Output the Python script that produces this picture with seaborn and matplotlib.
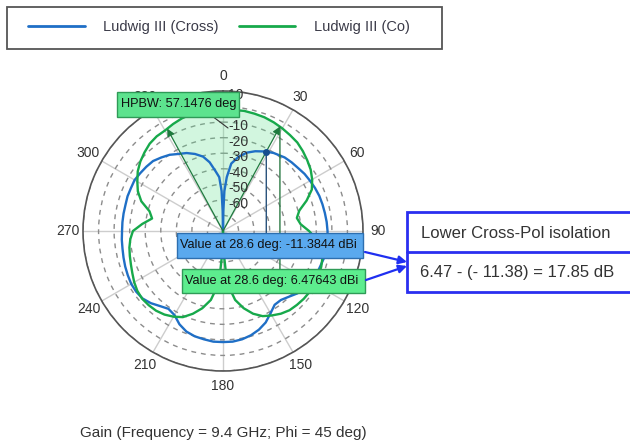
import numpy as np
import pandas as pd
import seaborn as sns
import matplotlib
matplotlib.use("Agg")
import matplotlib.pyplot as plt
import matplotlib.transforms as mtransforms
from matplotlib.patches import Rectangle, FancyArrowPatch
from matplotlib.lines import Line2D

# ---------------- data (dB on the plot's radial scale) -------------
series_names = ["Ludwig III (Cross)", "Ludwig III (Co)"]

co_theta = [0, 5, 10, 15, 20, 25, 30, 35, 40, 45, 50, 55, 60, 65, 70, 75, 80, 85, 90,
            95, 100, 105, 110, 115, 120, 125, 130, 135, 140, 145, 150, 155, 160, 165,
            170, 174, 176, 178, 180, 182, 184, 186, 190, 195, 200, 205, 210, 215, 220,
            225, 230, 235, 240, 245, 250, 255, 260, 265, 270, 275, 280, 285, 290, 295,
            300, 305, 310, 315, 320, 325, 330, 335, 340, 345, 350, 355, 360]
co_gain = [-2.2, -1.9, -1.6, -1.9, -2.2, -2.9, -3.8, -4.8, -5.7, -7.4, -9.3, -11.2, -13.8,
           -17.0, -22.8, -29.2, -31.8, -29.9, -24.7, -19.6, -15.7, -13.8, -12.8, -12.2,
           -11.9, -11.9, -12.2, -12.8, -13.5, -15.1, -17.3, -19.6, -23.4, -28.6, -35.0,
           -44.0, -53.0, -65.9, -80.0, -65.9, -53.0, -44.0, -35.0, -28.6, -23.4, -18.9,
           -16.4, -14.4, -13.1, -12.5, -12.2, -12.8, -14.1, -15.7, -17.0, -18.0, -18.9,
           -20.2, -22.1, -27.9, -33.7, -31.1, -24.1, -19.6, -16.4, -13.1, -10.6, -8.6,
           -6.7, -5.7, -5.4, -4.1, -2.9, -2.2, -1.9, -2.2, -2.2]

cross_theta = [0, 1, 2, 4, 7, 12, 17, 22, 28, 33, 40, 45, 50, 55, 60, 65, 70, 75, 80, 85,
               90, 95, 100, 105, 110, 115, 120, 125, 130, 135, 140, 145, 150, 155, 160,
               165, 170, 175, 180, 185, 190, 195, 200, 205, 210, 215, 220, 225, 230, 235,
               240, 245, 250, 255, 260, 265, 270, 275, 280, 285, 290, 295, 300, 305, 310,
               315, 320, 325, 330, 335, 340, 345, 349, 353, 356, 358, 359, 360]
cross_gain = [-80.0, -67.1, -54.3, -45.3, -36.3, -31.1, -27.3, -24.7, -22.1, -20.2, -18.3,
              -17.6, -17.0, -16.0, -15.4, -14.7, -14.1, -13.8, -13.5, -13.1, -12.8, -12.5,
              -12.5, -12.8, -13.5, -13.8, -14.4, -15.7, -17.6, -20.2, -22.1, -22.1, -18.9,
              -15.1, -12.5, -10.6, -9.3, -8.6, -8.6, -8.6, -9.3, -9.9, -11.2, -13.8, -17.6,
              -18.9, -17.0, -14.4, -12.5, -11.9, -11.9, -12.5, -13.1, -13.8, -14.4, -14.7,
              -15.1, -15.1, -15.1, -15.1, -14.7, -14.7, -14.4, -15.1, -15.7, -16.4, -18.3,
              -20.2, -22.8, -24.7, -27.3, -30.5, -35.0, -41.4, -45.3, -54.3, -67.1, -80.0]

angle_ticks = list(range(0, 360, 30))
radial_ticks = [-70, -60, -50, -40, -30, -20, -10, 0, 10]
radial_labels = ["", "-60", "-50", "-40", "-30", "-20", "-10", "", "10"]
marker_angle = 28.6
hpbw_text = "HPBW: 57.1476 deg"
cross_value_text = "Value at 28.6 deg: -11.3844 dBi"
co_value_text = "Value at 28.6 deg: 6.47643 dBi"
iso_title = "Lower Cross-Pol isolation"
iso_value = "6.47 - (- 11.38) = 17.85 dB"
footer = "Gain (Frequency = 9.4 GHz; Phi = 45 deg)"

BLUE = "#1f6fc6"
GREEN = "#17a94b"
palette = {series_names[0]: BLUE, series_names[1]: GREEN}

# ---------------- figure ----------------
sns.set_theme(style="white")
plt.rcParams["font.family"] = ["Liberation Sans", "DejaVu Sans"]

W, H = 630, 447
fig = plt.figure(figsize=(W / 100, H / 100), dpi=100)


def fx(x):
    return x / W


def fy(y):
    return 1 - y / H


ax = fig.add_axes([fx(83), fy(371), 280 / W, 280 / H], projection="polar")

df = pd.concat([
    pd.DataFrame({"theta": np.deg2rad(cross_theta), "gain": cross_gain, "series": series_names[0]}),
    pd.DataFrame({"theta": np.deg2rad(co_theta), "gain": co_gain, "series": series_names[1]}),
], ignore_index=True)

sns.lineplot(data=df, x="theta", y="gain", hue="series", hue_order=series_names,
             palette=palette, estimator=None, sort=False, legend=False, lw=1.7, ax=ax)

ax.set_theta_zero_location("N")
ax.set_theta_direction(-1)
ax.set_ylim(-80, 10)
ax.set_xlabel("")
ax.set_ylabel("")
ax.set_xticks(np.deg2rad(angle_ticks))
ax.set_xticklabels([str(a) for a in angle_ticks])
ax.set_yticks(radial_ticks)
ax.set_yticklabels([])
ax.xaxis.grid(True, color="#cdcdcd", lw=1.0, ls="-")
ax.yaxis.grid(True, color="#8c8c8c", lw=1.0, ls=(0, (3.5, 3.5)))
ax.spines["polar"].set_color("#555555")
ax.spines["polar"].set_linewidth(1.2)
ax.tick_params(axis="x", pad=-2, labelsize=10, labelcolor="#333333")

# radial labels just right of the 0 deg line
off = mtransforms.ScaledTranslation(0.05, -0.04, fig.dpi_scale_trans)
for v, lab in zip(radial_ticks, radial_labels):
    if lab:
        ax.text(0, v, lab, transform=ax.transData + off, ha="left", va="center",
                fontsize=10, color="#333333", zorder=6)

# HPBW sector
t_signed = np.where(np.array(co_theta) > 180, np.array(co_theta) - 360, np.array(co_theta))
order = np.argsort(t_signed)
ts, gs = t_signed[order], np.array(co_gain)[order]
gl = np.interp(-marker_angle, ts, gs)
gr = np.interp(marker_angle, ts, gs)
inner = np.abs(ts) < marker_angle
poly_t = np.concatenate([[0, -marker_angle], ts[inner], [marker_angle, 0]])
poly_r = np.concatenate([[-80, gl], gs[inner], [gr, -80]])
ax.fill(np.deg2rad(poly_t), poly_r, color="#5fe08f", alpha=0.28, lw=0, zorder=0.8)
for ang, val in [(-marker_angle, gl), (marker_angle, gr)]:
    ax.annotate("", xy=(np.deg2rad(ang), val), xytext=(0, -80),
                arrowprops=dict(arrowstyle="-|>", color="#1e7a3e", lw=0.9,
                                mutation_scale=11, shrinkA=0, shrinkB=0), zorder=4)

# markers at 28.6 deg and leaders to the value boxes
bv = np.interp(marker_angle, cross_theta, cross_gain)
ax.plot(np.deg2rad(marker_angle), bv, "o", color="#174f8f", ms=4, zorder=5)
ax.annotate("", xy=(np.deg2rad(marker_angle), bv), xytext=(0, -95), textcoords="offset pixels",
            arrowprops=dict(arrowstyle="-", color="#27507a", lw=1.0, shrinkA=0, shrinkB=0))
ax.annotate("", xy=(np.deg2rad(marker_angle), gr), xytext=(0, -150), textcoords="offset pixels",
            arrowprops=dict(arrowstyle="-", color="#2c7a45", lw=1.0, shrinkA=0, shrinkB=0))


# ---------------- figure-level annotations ----------------
def box(x0, y0, x1, y1, fc, ec, lw=1.0, z=3):
    fig.add_artist(Rectangle((fx(x0), fy(y1)), fx(x1) - fx(x0), fy(y0) - fy(y1),
                             transform=fig.transFigure, fc=fc, ec=ec, lw=lw, zorder=z))


# HPBW label
fig.add_artist(Line2D([fx(212), fx(228)], [fy(116), fy(128)], transform=fig.transFigure,
                      color="#333333", lw=0.8, zorder=2))
box(117, 92, 239, 117, "#5de38e", "#2f9b57")
fig.text(fx(121), fy(104.5), hpbw_text, ha="left", va="center", fontsize=9.2,
         color="#111111", zorder=4)

# value boxes
box(177, 233, 363, 258, "#5aa9ee", "#2d6fb0")
fig.text(fx(180), fy(245.5), cross_value_text, ha="left", va="center", fontsize=9.2,
         color="#111111", zorder=4)
box(182, 269, 365, 293, "#5ded8e", "#2f9b57")
fig.text(fx(185), fy(281), co_value_text, ha="left", va="center", fontsize=9.2,
         color="#111111", zorder=4)

# arrows to isolation box
for (x0, y0), (x1, y1) in [((365, 252), (407, 262)), ((366, 280), (407, 266))]:
    fig.add_artist(FancyArrowPatch((fx(x0), fy(y0)), (fx(x1), fy(y1)), transform=fig.transFigure,
                                   arrowstyle="-|>", mutation_scale=12, color="#1f2ff0",
                                   lw=1.6, shrinkA=0, shrinkB=0, zorder=5))

# isolation box
box(407, 212, 640, 292, "white", "#2a2ff0", lw=2.0)
fig.add_artist(Line2D([fx(407), fx(640)], [fy(252), fy(252)], transform=fig.transFigure,
                      color="#2a2ff0", lw=2.0, zorder=4))
fig.text(fx(421), fy(233), iso_title, ha="left", va="center", fontsize=12,
         color="#333333", zorder=5)
fig.text(fx(420), fy(273), iso_value, ha="left", va="center", fontsize=12,
         color="#333333", zorder=5)

# legend
box(7, 7, 442, 49, "none", "#555555", lw=1.3)
handles = [Line2D([], [], color=palette[n], lw=2.0) for n in series_names]
fig.legend(handles, series_names, loc="center left", bbox_to_anchor=(fx(21), fy(27)),
           ncol=2, frameon=False, fontsize=10.5, borderpad=0, handlelength=3.9,
           handletextpad=1.25, columnspacing=1.35, labelcolor="#3a3a48")

# footer
fig.text(fx(80), fy(433), footer, ha="left", va="center", fontsize=11, color="#333333")

fig.savefig("out.png", dpi=100)
